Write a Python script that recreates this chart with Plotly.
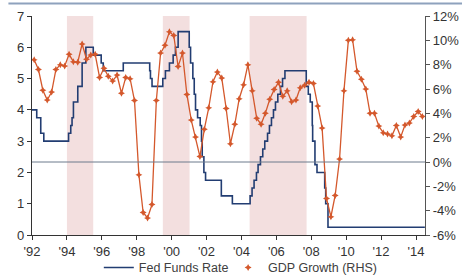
import pandas as pd
import plotly.graph_objects as go

# Fed funds target rate: change dates and levels (%)
fed_dates = ["1992-01-01", "1992-04-09", "1992-07-02", "1992-09-04", "1994-02-04", "1994-03-22",
             "1994-04-18", "1994-05-17", "1994-08-16", "1994-11-15", "1995-02-01", "1995-07-06",
             "1995-12-19", "1996-01-31", "1997-03-25", "1998-09-29", "1998-10-15", "1998-11-17",
             "1999-06-30", "1999-08-24", "1999-11-16", "2000-02-02", "2000-03-21", "2000-05-16",
             "2001-01-03", "2001-01-31", "2001-03-20", "2001-04-18", "2001-05-15", "2001-06-27",
             "2001-08-21", "2001-09-17", "2001-10-02", "2001-11-06", "2001-12-11", "2002-11-06",
             "2003-06-25", "2004-06-30", "2004-08-10", "2004-09-21", "2004-11-10", "2004-12-14",
             "2005-02-02", "2005-03-22", "2005-05-03", "2005-06-30", "2005-08-09", "2005-09-20",
             "2005-11-01", "2005-12-13", "2006-01-31", "2006-03-28", "2006-05-10", "2006-06-29",
             "2007-09-18", "2007-10-31", "2007-12-11", "2008-01-22", "2008-01-30", "2008-03-18",
             "2008-04-30", "2008-10-08", "2008-10-29", "2008-12-16", "2014-07-05"]
fed_rate = [4.0, 3.75, 3.25, 3.0, 3.25, 3.5,
            3.75, 4.25, 4.75, 5.5, 6.0, 5.75,
            5.5, 5.25, 5.5, 5.25, 5.0, 4.75,
            5.0, 5.25, 5.5, 5.75, 6.0, 6.5,
            6.0, 5.5, 5.0, 4.5, 4.0, 3.75,
            3.5, 3.0, 2.5, 2.0, 1.75, 1.25,
            1.0, 1.25, 1.5, 1.75, 2.0, 2.25,
            2.5, 2.75, 3.0, 3.25, 3.5, 3.75,
            4.0, 4.25, 4.5, 4.75, 5.0, 5.25,
            4.75, 4.5, 4.25, 3.5, 3.0, 2.25,
            2.0, 1.5, 1.0, 0.25, 0.25]

# GDP growth (RHS, %), quarterly from 1992 Q1 to 2014 Q2
gdp_start = "1992-02-15"
gdp_growth = [8.4, 7.6, 5.9, 5.1, 5.75, 7.6, 8.0, 7.9, 8.85, 8.25,
              8.2, 9.7, 8.45, 8.8, 8.85, 6.95, 7.7, 7.05, 6.65, 7.15,
              5.65, 6.95, 6.85, 5.05, -1.05, -4.15, -4.6, -3.5, 5.05, 8.95,
              9.6, 10.7, 10.4, 7.85, 8.95, 5.55, 3.45, 2.05, 0.45, 2.7,
              4.45, 6.6, 7.4, 6.9, 4.4, 1.5, 3.1, 5.2, 6.35, 8.0,
              5.85, 3.6, 3.1, 4.0, 5.15, 5.95, 6.55, 5.4, 5.85, 4.95,
              5.1, 6.1, 6.3, 6.55, 6.45, 4.6, 2.8, -3.0, -4.5, -2.75,
              0.25, 5.85, 10.0, 10.05, 7.45, 6.8, 6.0, 4.0, 4.0, 2.95,
              2.4, 2.3, 2.15, 3.0, 2.05, 3.05, 3.2, 3.75, 4.15, 3.75]
gdp_dates = pd.date_range(gdp_start, periods=len(gdp_growth), freq=pd.DateOffset(months=3))

# Shaded tightening periods
shade_start = ["1994-01-01", "1999-07-01", "2004-06-20"]
shade_end = ["1995-07-05", "2001-01-10", "2007-09-25"]

left_ticks = [0, 1, 2, 3, 4, 5, 6, 7]
right_ticks = [-6, -4, -2, 0, 2, 4, 6, 8, 10, 12]
right_labels = ["-6%", "-4%", "-2%", "0%", "2%", "4%", "6%", "8%", "10%", "12%"]
x_range = ["1992-01-01", "2014-07-08"]

FED_COLOR = "#223d72"
GDP_COLOR = "#d4582c"
SHADE = "#f3dfdf"
FONT = "Liberation Sans, Arial, sans-serif"
TXT = "#333333"

fig = go.Figure()
fig.add_trace(go.Scatter(x=fed_dates, y=fed_rate, mode="lines", line_shape="hv",
                         name="Fed Funds Rate", line=dict(color=FED_COLOR, width=1.6),
                         legend="legend"))
fig.add_trace(go.Scatter(x=gdp_dates, y=gdp_growth, mode="lines+markers", name="GDP Growth (RHS)",
                         yaxis="y2", line=dict(color=GDP_COLOR, width=1.3), showlegend=False,
                         marker=dict(color=GDP_COLOR, size=5, symbol="star-diamond")))
fig.add_trace(go.Scatter(x=[None], y=[None], mode="markers", name="GDP Growth (RHS)",
                         yaxis="y2", legend="legend2",
                         marker=dict(color=GDP_COLOR, size=5, symbol="star-diamond")))

for s, e in zip(shade_start, shade_end):
    fig.add_shape(type="rect", xref="x", yref="paper", x0=s, x1=e, y0=0, y1=1,
                  fillcolor=SHADE, line_width=0, layer="below")

fig.add_shape(type="line", xref="paper", yref="y2", x0=0, x1=1, y0=0, y1=0,
              line=dict(color="#6d7b8c", width=1))
fig.add_shape(type="line", xref="paper", yref="paper", x0=-0.06, x1=1.1, y0=1.057, y1=1.057,
              line=dict(color="#8ea2bd", width=2))

legend_common = dict(orientation="h", xanchor="left", y=-0.15, yanchor="middle",
                     font=dict(size=12.5, color="#404040"), bgcolor="rgba(0,0,0,0)",
                     itemwidth=30, tracegroupgap=0)

fig.update_layout(
    width=462, height=275,
    margin=dict(l=32, r=37, t=16, b=40, autoexpand=False),
    paper_bgcolor="white", plot_bgcolor="white",
    font=dict(family=FONT, size=13, color=TXT),
    showlegend=True,
    legend=dict(x=0.17, **legend_common),
    legend2=dict(x=0.499, **legend_common),
    xaxis=dict(type="date", range=x_range, tickformat="'%y", dtick="M24", tick0="1992-01-01",
               showgrid=False, zeroline=False, showline=True, linecolor="#333333", linewidth=1.2,
               ticks="outside", ticklen=4, tickcolor="#333333"),
    yaxis=dict(range=[0, 7], tickvals=left_ticks, showgrid=False, zeroline=False, showline=True,
               linecolor="#333333", linewidth=1.2, ticks="outside", ticklen=4, tickcolor="#333333"),
    yaxis2=dict(range=[-6, 12], tickvals=right_ticks, ticktext=right_labels, overlaying="y",
                side="right", showgrid=False, zeroline=False, showline=True, linecolor="#555555",
                linewidth=1.2, ticks="outside", ticklen=4, tickcolor="#555555"),
)

fig.write_html("out.html", config={"displayModeBar": False},
               post_script="document.body.style.margin='0';document.body.style.overflow='hidden';")
